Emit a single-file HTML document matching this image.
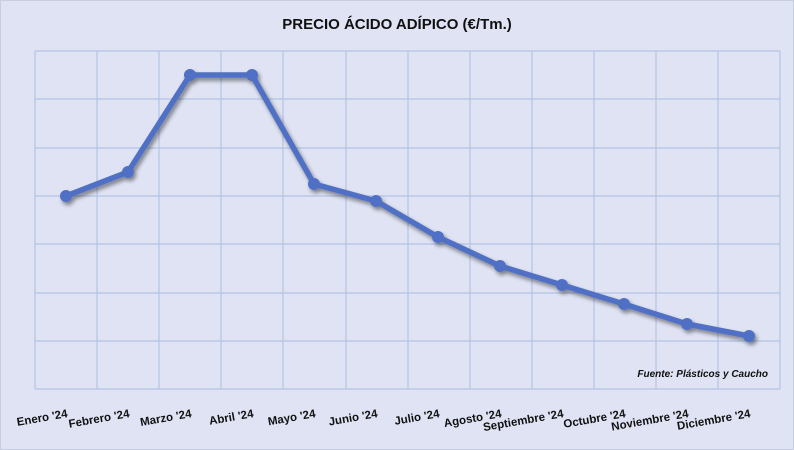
<!DOCTYPE html>
<html><head><style>
html,body{margin:0;padding:0;background:#dfe3f3;}
svg{display:block;font-family:"Liberation Sans",Arial,sans-serif;}
</style></head><body>
<svg width="794" height="450" viewBox="0 0 794 450">
<defs>
<filter id="sh" x="-10%" y="-10%" width="120%" height="130%">
<feGaussianBlur in="SourceAlpha" stdDeviation="2"/>
<feOffset dx="2" dy="3"/>
<feComponentTransfer><feFuncA type="linear" slope="0.45"/></feComponentTransfer>
<feMerge><feMergeNode/><feMergeNode in="SourceGraphic"/></feMerge>
</filter>
</defs>
<rect x="0.5" y="0.5" width="793" height="449" fill="#dfe3f3" stroke="#c8cde0"/>
<text x="397" y="29" text-anchor="middle" font-size="15" font-weight="bold" fill="#111">PRECIO ÁCIDO ADÍPICO (€/Tm.)</text>
<g stroke="#b4c4e6" stroke-width="1.2" fill="none">
<path d="M35 51H780M35 99H780M35 148H780M35 196H780M35 244H780M35 293H780M35 341H780M35 389H780"/>
<path d="M35 51V389M97 51V389M159 51V389M221 51V389M283 51V389M346 51V389M408 51V389M470 51V389M532 51V389M594 51V389M656 51V389M718 51V389M780 51V389"/>
</g>
<g filter="url(#sh)" fill="#4f6fc4">
<polyline points="66,196 128,172 190,75 252,75 314,184 376,201 438,237 500,266 562,285 624,304 687,324 749,336" fill="none" stroke="#4f6fc4" stroke-width="5.5" stroke-linejoin="round"/>
<circle cx="66" cy="196" r="6"/><circle cx="128" cy="172" r="6"/><circle cx="190" cy="75" r="6"/><circle cx="252" cy="75" r="6"/><circle cx="314" cy="184" r="6"/><circle cx="376" cy="201" r="6"/><circle cx="438" cy="237" r="6"/><circle cx="500" cy="266" r="6"/><circle cx="562" cy="285" r="6"/><circle cx="624" cy="304" r="6"/><circle cx="687" cy="324" r="6"/><circle cx="749" cy="336" r="6"/>
</g>
<text x="768" y="377" text-anchor="end" font-size="10" font-style="italic" font-weight="bold" fill="#111">Fuente: Plásticos y Caucho</text>
<g font-size="11.5" font-weight="bold" fill="#111" text-anchor="end">
<text transform="translate(68,417) rotate(-10)">Enero '24</text>
<text transform="translate(130,417) rotate(-10)">Febrero '24</text>
<text transform="translate(192,417) rotate(-10)">Marzo '24</text>
<text transform="translate(254,417) rotate(-10)">Abril '24</text>
<text transform="translate(316,417) rotate(-10)">Mayo '24</text>
<text transform="translate(378,417) rotate(-10)">Junio '24</text>
<text transform="translate(440,417) rotate(-10)">Julio '24</text>
<text transform="translate(502,417) rotate(-10)">Agosto '24</text>
<text transform="translate(564,417) rotate(-10)">Septiembre '24</text>
<text transform="translate(626,417) rotate(-10)">Octubre '24</text>
<text transform="translate(689,417) rotate(-10)">Noviembre '24</text>
<text transform="translate(751,417) rotate(-10)">Diciembre '24</text>
</g>
</svg>
</body></html>
